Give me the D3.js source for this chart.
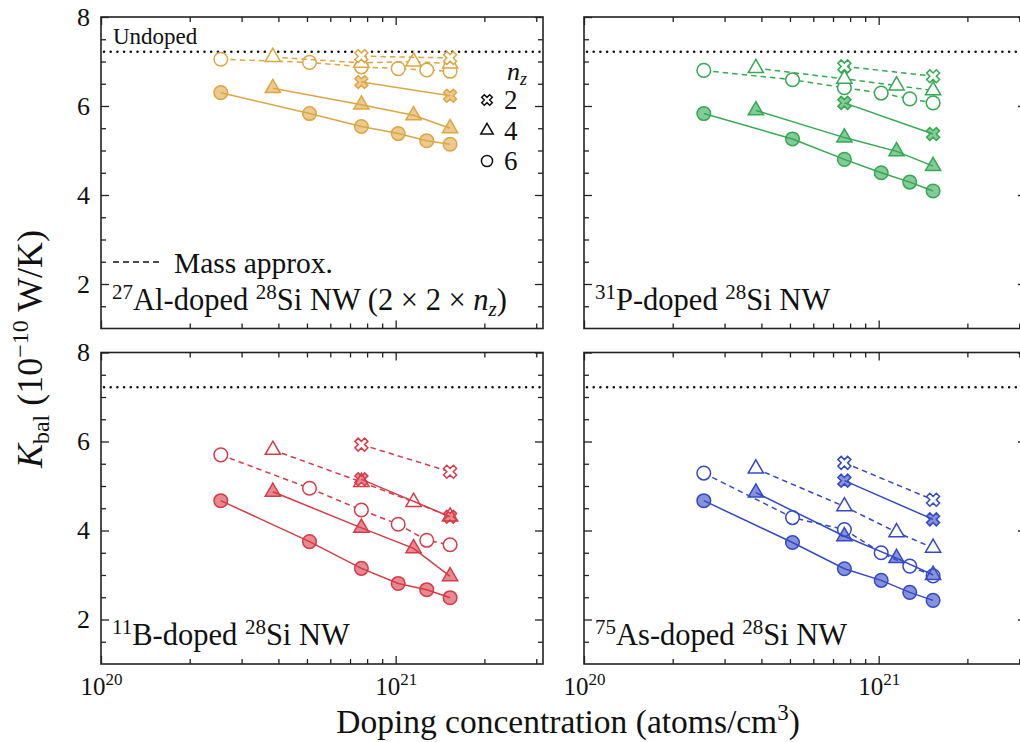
<!DOCTYPE html>
<html>
<head>
<meta charset="utf-8">
<script src="https://cdn.jsdelivr.net/npm/d3@7"></script>
<style>
  body { margin: 0; background: #fff; }
  svg { display: block; }
  text { font-family: "Liberation Serif", "Times New Roman", serif; fill: #111; }
</style>
</head>
<body>
<svg id="chart" width="1020" height="742" font-family="Liberation Serif, serif"></svg>
<script>
// ---- data -------------------------------------------------------------
// doping concentrations (atoms/cm^3) for the three supercell lengths
const nzLevels = [2, 4, 6];
const concNz2 = [7.65e20, 1.53e21];
const concNz4 = [3.83e20, 7.65e20, 1.15e21, 1.53e21];
const concNz6 = [2.55e20, 5.1e20, 7.65e20, 1.02e21, 1.275e21, 1.53e21];

// ballistic thermal conductance K_bal (1e-10 W/K); rows: nz = 2, 4, 6
const alFull = [[6.54, 6.23], [6.40, 6.03, 5.79, 5.50], [6.30, 5.83, 5.54, 5.38, 5.22, 5.14]];
const alMass = [[7.12, 7.08], [7.10, 6.97, 7.00, 6.95], [7.05, 6.98, 6.88, 6.84, 6.81, 6.78]];
const pFull  = [[6.07, 5.37], [5.90, 5.29, 4.98, 4.65], [5.83, 5.26, 4.80, 4.50, 4.29, 4.09]];
const pMass  = [[6.89, 6.67], [6.85, 6.61, 6.46, 6.35], [6.80, 6.59, 6.41, 6.29, 6.16, 6.07]];
const bFull  = [[5.15, 4.31], [4.87, 4.06, 3.60, 2.97], [4.67, 3.75, 3.15, 2.81, 2.67, 2.49]];
const bMass  = [[5.93, 5.32], [5.81, 5.09, 4.64, 4.31], [5.70, 4.95, 4.46, 4.14, 3.78, 3.68]];
const asFull = [[5.12, 4.25], [4.85, 3.87, 3.38, 3.00], [4.67, 3.73, 3.14, 2.88, 2.61, 2.43]];
const asMass = [[5.52, 4.69], [5.39, 4.54, 3.96, 3.61], [5.29, 4.29, 4.02, 3.50, 3.20, 2.98]];
const undopedK = 7.22;

const dopantSymbols = ["Al", "P", "B", "As"];
const dopantMasses = ["27", "31", "11", "75"];
const dopantColors = ["#DCA644", "#34A853", "#D63B47", "#3549C4"];

const yMajorTicks = [2, 4, 6, 8];
const yMinorTicks = [1.5, 2.5, 3, 3.5, 4.5, 5, 5.5, 6.5, 7, 7.5];
const xMajorTicks = [1e20, 1e21];
const xMinorTicks = [2e20, 3e20, 4e20, 5e20, 6e20, 7e20, 8e20, 9e20, 2e21, 3e21];
const xTickExponents = ["20", "21"];

// ---- layout -------------------------------------------------------------
const svg = d3.select("#chart");
svg.append("rect").attr("width", 1020).attr("height", 742).attr("fill", "#fff");

const W = 442, H = 311.5;
const panelOrigins = [[101, 17], [584, 17], [101, 352.5], [584, 352.5]];
const x = d3.scaleLog().domain([1e20, Math.pow(10, 21.5)]).range([0, W]);
const y = d3.scaleLinear().domain([1, 8]).range([H, 0]);

const concByRow = [concNz2, concNz4, concNz6];
const fullSets = [alFull, pFull, bFull, asFull];
const massSets = [alMass, pMass, bMass, asMass];

const symX = d3.symbol().type(d3.symbolCross).size(105);
const symTri = d3.symbol().type(d3.symbolTriangle).size(100);
const markerPath = [symX(), symTri(), null];
const markerRotate = [45, 0, 0];

function drawMarker(g, row, px, py, stroke, fill, scale = 1) {
  if (row === 2) {
    g.append("circle").attr("cx", px).attr("cy", py).attr("r", 6.8 * scale)
      .attr("fill", fill.c).attr("fill-opacity", fill.o)
      .attr("stroke", stroke).attr("stroke-width", 1.5);
  } else {
    g.append("path").attr("d", markerPath[row])
      .attr("transform", `translate(${px},${py}) rotate(${markerRotate[row]}) scale(${scale})`)
      .attr("fill", fill.c).attr("fill-opacity", fill.o)
      .attr("stroke", stroke).attr("stroke-width", 1.5 / scale);
  }
}

const line = d3.line().x(d => x(d[0])).y(d => y(d[1]));

panelOrigins.forEach((o, i) => {
  const g = svg.append("g").attr("transform", `translate(${o[0]},${o[1]})`);
  const col = dopantColors[i];
  const isLeft = i % 2 === 0, isBottom = i >= 2;

  // undoped reference
  g.append("line").attr("x1", 3).attr("x2", W).attr("y1", y(undopedK)).attr("y2", y(undopedK))
    .attr("stroke", "#111").attr("stroke-width", 2.6)
    .attr("stroke-dasharray", "0 6.7").attr("stroke-linecap", "round");

  // mass approximation (dashed, open markers), then full calculation (solid, filled)
  [[massSets[i], "5.5 4", {c: "#fff", o: 1}], [fullSets[i], null, {c: col, o: 0.6}]].forEach(([set, dash, fill]) => {
    [2, 1, 0].forEach(row => {
      const pts = set[row].map((v, k) => [concByRow[row][k], v]);
      g.append("path").attr("d", line(pts)).attr("fill", "none")
        .attr("stroke", col).attr("stroke-width", 1.5)
        .attr("stroke-dasharray", dash);
      pts.forEach(p => drawMarker(g, row, x(p[0]), y(p[1]), col, fill));
    });
  });

  // frame and inward ticks on all sides
  g.append("rect").attr("width", W).attr("height", H).attr("fill", "none")
    .attr("stroke", "#222").attr("stroke-width", 1.6);

  const tickStyle = sel => {
    sel.attr("font-family", null);
    sel.select(".domain").remove();
    sel.selectAll("line").attr("stroke", "#222").attr("stroke-width", 1.3);
  };
  g.append("g").call(d3.axisLeft(y).tickValues(yMajorTicks).tickSize(-8).tickPadding(11)
      .tickFormat(isLeft ? d3.format("d") : () => "")).call(tickStyle)
    .selectAll("text").attr("font-size", 26).attr("fill", "#111");
  g.append("g").call(d3.axisLeft(y).tickValues(yMinorTicks).tickSize(-5).tickFormat(() => "")).call(tickStyle);
  g.append("g").attr("transform", `translate(${W},0)`)
    .call(d3.axisRight(y).tickValues(yMajorTicks).tickSize(-8).tickFormat(() => "")).call(tickStyle);
  g.append("g").attr("transform", `translate(${W},0)`)
    .call(d3.axisRight(y).tickValues(yMinorTicks).tickSize(-5).tickFormat(() => "")).call(tickStyle);
  g.append("g").call(d3.axisTop(x).tickValues(xMajorTicks).tickSize(-8).tickFormat(() => "")).call(tickStyle);
  g.append("g").call(d3.axisTop(x).tickValues(xMinorTicks).tickSize(-5).tickFormat(() => "")).call(tickStyle);
  const bx = g.append("g").attr("transform", `translate(0,${H})`)
    .call(d3.axisBottom(x).tickValues(xMajorTicks).tickSize(-8).tickFormat(() => "")).call(tickStyle);
  g.append("g").attr("transform", `translate(0,${H})`)
    .call(d3.axisBottom(x).tickValues(xMinorTicks).tickSize(-5).tickFormat(() => "")).call(tickStyle);

  if (isBottom) {
    bx.selectAll(".tick").each(function (d, k) {
      const t = d3.select(this).append("text").attr("y", 31).attr("text-anchor", "middle")
        .attr("font-size", 25).attr("fill", "#111");
      t.append("tspan").text("10");
      t.append("tspan").attr("dy", -10).attr("font-size", 17).text(xTickExponents[k]);
    });
  }

  // panel label
  const lab = g.append("text").attr("x", 11).attr("y", H - 19).attr("font-size", 30.5);
  lab.append("tspan").attr("font-size", 21).attr("dy", -11).text(dopantMasses[i]);
  lab.append("tspan").attr("dy", 11).text(dopantSymbols[i] + "-doped ");
  lab.append("tspan").attr("font-size", 21).attr("dy", -11).text("28");
  lab.append("tspan").attr("dy", 11).text("Si NW");
  if (i === 0) {
    lab.append("tspan").text(" (2 \u00d7 2 \u00d7 ");
    lab.append("tspan").attr("font-style", "italic").text("n");
    lab.append("tspan").attr("font-style", "italic").attr("font-size", 21).attr("dy", 6).text("z");
    lab.append("tspan").attr("dy", -6).text(")");
  }

  if (i === 0) {
    g.append("text").attr("x", 12).attr("y", 27).attr("font-size", 23).text("Undoped");
    // line-style key
    g.append("line").attr("x1", 12).attr("x2", 62).attr("y1", 245).attr("y2", 245)
      .attr("stroke", "#111").attr("stroke-width", 1.5).attr("stroke-dasharray", "6 4");
    g.append("text").attr("x", 73).attr("y", 256).attr("font-size", 29.5).text("Mass approx.");
    // marker key for nz
    const key = g.append("g");
    const nzTitle = key.append("text").attr("x", 406).attr("y", 63).attr("font-size", 26).attr("font-style", "italic");
    nzTitle.append("tspan").text("n");
    nzTitle.append("tspan").attr("font-size", 18).attr("dy", 5).text("z");
    nzLevels.forEach((nz, row) => {
      const ky = 83 + row * 30.5;
      drawMarker(key, row, 386, ky, "#111", {c: "#fff", o: 1}, 0.82);
      key.append("text").attr("x", 403).attr("y", ky + 9).attr("font-size", 27).text(nz);
    });
  }
});

// axis titles
const xt = svg.append("text").attr("x", 568).attr("y", 733).attr("text-anchor", "middle").attr("font-size", 33.5);
xt.append("tspan").text("Doping concentration (atoms/cm");
xt.append("tspan").attr("font-size", 23).attr("dy", -13).text("3");
xt.append("tspan").attr("dy", 13).text(")");

const yt = svg.append("text").attr("transform", "translate(42,349) rotate(-90)")
  .attr("text-anchor", "middle").attr("font-size", 36);
yt.append("tspan").attr("font-style", "italic").text("K");
yt.append("tspan").attr("font-size", 24).attr("dy", 7).text("bal");
yt.append("tspan").attr("dy", -7).text(" (10");
yt.append("tspan").attr("font-size", 24).attr("dy", -14).text("\u221210");
yt.append("tspan").attr("dy", 14).text(" W/K)");
</script>
</body>
</html>
